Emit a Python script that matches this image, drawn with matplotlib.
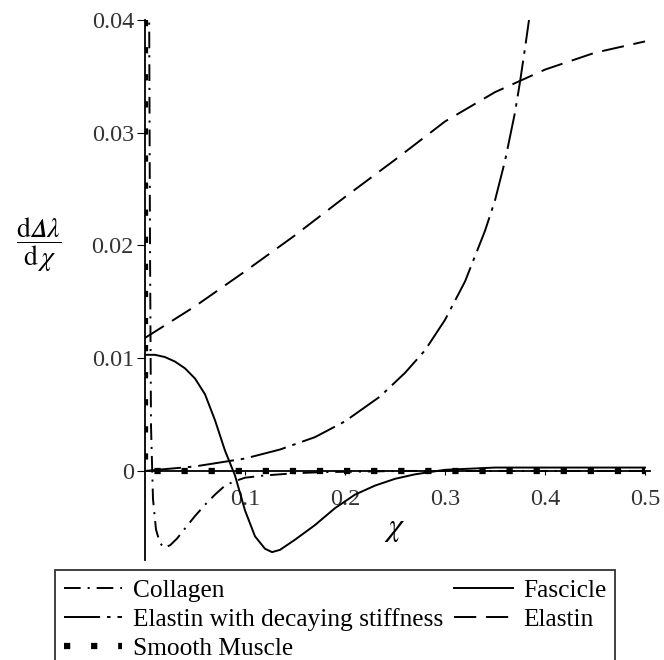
import matplotlib
matplotlib.use('Agg')
import matplotlib.pyplot as plt

plt.rcParams['font.family'] = ['Liberation Serif', 'DejaVu Serif']
plt.rcParams['mathtext.fontset'] = 'stix'
plt.rcParams['lines.scale_dashes'] = False

# ---- data ----
collagen_x = [0.004, 0.005, 0.006, 0.008, 0.011, 0.015, 0.019, 0.025, 0.032, 0.04, 0.05, 0.06,
              0.07, 0.08, 0.09, 0.1, 0.12, 0.15, 0.18, 0.22, 0.26, 0.3, 0.4, 0.5]
collagen_y = [0.045, 0.02, 0.004, -0.0025, -0.0052, -0.0064, -0.0068, -0.0066, -0.0060, -0.0051,
              -0.0040, -0.0030, -0.0021, -0.0013, -0.0009, -0.0006, -0.0004, -0.0002, -0.0001,
              -0.00005, 0.0, 0.0, 0.0, 0.0]

fascicle_x = [0, 0.01, 0.02, 0.03, 0.04, 0.05, 0.06, 0.07, 0.08, 0.09, 0.1, 0.11, 0.12, 0.127,
              0.135, 0.15, 0.17, 0.19, 0.21, 0.23, 0.25, 0.27, 0.3, 0.35, 0.4, 0.5]
fascicle_y = [0.0103, 0.0103, 0.0101, 0.0097, 0.0091, 0.0082, 0.0068, 0.0045, 0.0018, -0.0004,
              -0.0035, -0.0058, -0.0069, -0.0072, -0.0070, -0.0061, -0.0048, -0.0033, -0.0021,
              -0.0013, -0.0007, -0.0003, 0.0001, 0.0003, 0.0003, 0.0003]

elastin_decay_x = [0, 0.05, 0.1, 0.135, 0.17, 0.2, 0.235, 0.26, 0.28, 0.3, 0.32, 0.34, 0.35,
                   0.36, 0.37, 0.375, 0.38, 0.384]
elastin_decay_y = [0.0, 0.0004, 0.0011, 0.0019, 0.0030, 0.0044, 0.0066, 0.0087, 0.0107, 0.0134,
                   0.0168, 0.0213, 0.0240, 0.0275, 0.0318, 0.0345, 0.0375, 0.0400]

elastin_x = [0, 0.05, 0.1, 0.15, 0.2, 0.25, 0.3, 0.35, 0.4, 0.45, 0.5]
elastin_y = [0.0118, 0.0146, 0.0177, 0.0209, 0.0243, 0.0276, 0.0310, 0.0336, 0.0356, 0.0371, 0.0381]

smooth_x = [0, 0, 0.5]
smooth_y = [0.04, 0.0, 0.0]

x_ticks = [0.1, 0.2, 0.3, 0.4, 0.5]
x_ticklabels = ['0.1', '0.2', '0.3', '0.4', '0.5']
y_ticks = [0, 0.01, 0.02, 0.03, 0.04]
y_ticklabels = ['0', '0.01', '0.02', '0.03', '0.04']

labels = ['Collagen', 'Fascicle', 'Elastin with decaying stiffness', 'Elastin', 'Smooth Muscle']

# ---- figure ----
W, H = 664, 660
fig = plt.figure(figsize=(W / 100, H / 100), dpi=100)
x0, x1 = 145, 650
ytop, ybot = 20, 560
ax = fig.add_axes([x0 / W, 1 - ybot / H, (x1 - x0) / W, (ybot - ytop) / H])
ax.set_xlim(0, 0.505)
ax.set_ylim(-0.0079, 0.04)

lw = 1.4
l_col, = ax.plot(collagen_x, collagen_y, color='black', lw=lw, dashes=(12, 5, 1.5, 5), label=labels[0])
l_fas, = ax.plot(fascicle_x, fascicle_y, color='black', lw=lw, ls='-', label=labels[1])
l_dec, = ax.plot(elastin_decay_x, elastin_decay_y, color='black', lw=lw, dashes=(26, 5, 2.5, 5), label=labels[2])
l_ela, = ax.plot(elastin_x, elastin_y, color='black', lw=lw, dashes=(16, 7), label=labels[3])
l_smo, = ax.plot(smooth_x, smooth_y, color='black', lw=4.5, dashes=(4.5, 15), label=labels[4])
l_smo.set_dash_capstyle('butt')

for s in ['top', 'right']:
    ax.spines[s].set_visible(False)
ax.spines['left'].set_position(('data', 0))
ax.spines['bottom'].set_position(('data', 0))
for s in ['left', 'bottom']:
    ax.spines[s].set_linewidth(1.3)
    ax.spines[s].set_zorder(1)

ax.set_xticks(x_ticks)
ax.set_xticklabels(x_ticklabels)
ax.set_yticks(y_ticks)
ax.set_yticklabels(y_ticklabels)
ax.tick_params(axis='x', direction='out', length=3, width=0.8, pad=10, labelsize=17.5, labelcolor='#333333')
ax.tick_params(axis='y', direction='out', length=6, width=0.8, pad=2, labelsize=17.5, labelcolor='#333333')
ax.patch.set_alpha(0)

fig.text(395 / W, 1 - 530 / H, r'$\chi$', fontsize=23, ha='center', va='center')
fig.text(39 / W, 1 - 245 / H, '$\\dfrac{\\mathrm{d}\U0001D6E5\\lambda}{\\mathrm{d}\\,\\chi}$',
         fontsize=20, ha='center', va='center')

handles = [l_col, l_dec, l_smo, l_fas, l_ela]
leg = fig.legend(handles, [h.get_label() for h in handles], ncol=2,
                 loc='upper left', bbox_to_anchor=(55 / W, 1 - 570 / H),
                 bbox_transform=fig.transFigure, fontsize=18.3, frameon=True, fancybox=False,
                 edgecolor='black', borderpad=0.35, handlelength=2.3, handletextpad=0.4,
                 columnspacing=0.45, labelspacing=0.24, borderaxespad=0)
leg.get_frame().set_linewidth(1.3)

fig.savefig('out.png', dpi=100)
